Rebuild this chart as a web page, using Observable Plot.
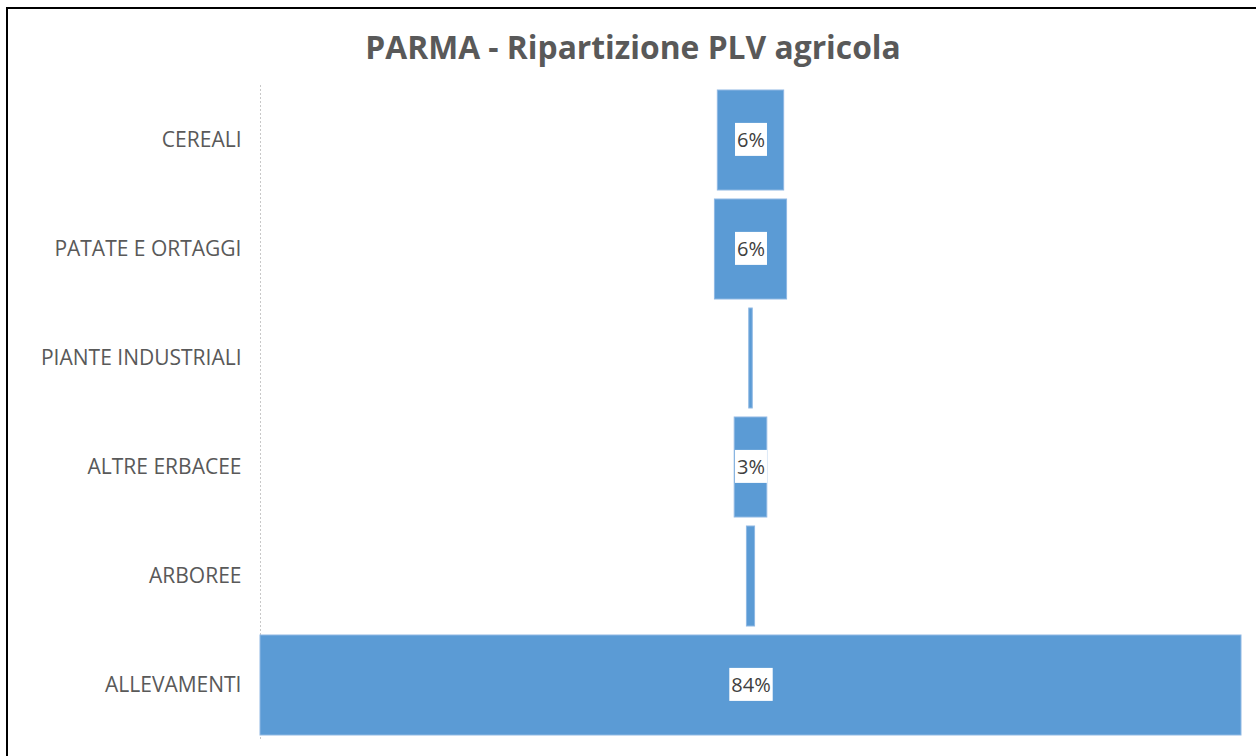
<!DOCTYPE html>
<html>
<head>
<meta charset="utf-8">
<script src="https://cdn.jsdelivr.net/npm/d3@7"></script>
<script src="https://cdn.jsdelivr.net/npm/@observablehq/plot@0.6"></script>
<style>
  html, body { margin: 0; padding: 0; background: #fff; overflow: hidden; width: 1256px; height: 756px; position: relative; }
  #frame { position: absolute; left: 6px; top: 7px; width: 1250px; height: 749px; border-left: 2px solid #000; border-top: 2px solid #000; box-sizing: border-box; z-index: 10; pointer-events: none; }
  #title { position: absolute; left: 0; top: 25px; width: 1266px; text-align: center; font-family: "Open Sans", Lato, sans-serif; font-weight: 700; font-size: 31.8px; color: #595959; z-index: 5; }
  #chart { position: absolute; left: 0; top: 0; }
</style>
</head>
<body>
<div id="frame"></div>
<div id="title">PARMA - Ripartizione PLV agricola</div>
<div id="chart"></div>
<script>
const categories = ["CEREALI", "PATATE E ORTAGGI", "PIANTE INDUSTRIALI", "ALTRE ERBACEE", "ARBOREE", "ALLEVAMENTI"];
const values = [5.7, 6.2, 0.3, 2.8, 0.7, 84.3];

const data = categories.map((c, i) => ({category: c, value: values[i]}));
const maxV = d3.max(values);

const plot = Plot.plot({
  width: 1256,
  height: 756,
  marginLeft: 260,
  marginRight: 15,
  marginTop: 85,
  marginBottom: 16,
  style: {fontFamily: "'Open Sans', Lato, sans-serif", background: "transparent"},
  x: {domain: [-maxV / 2, maxV / 2], axis: null},
  y: {domain: categories, padding: 0.08, paddingOuter: 0.03, label: null},
  marks: [
    Plot.ruleX([-maxV / 2], {stroke: "#c8c8c8", strokeDasharray: "2,2", strokeWidth: 1}),
    Plot.axisY({tickSize: 0, tickPadding: 19, fontSize: 21, fill: "#595959", label: null}),
    Plot.barX(data, {y: "category", x1: d => -d.value / 2, x2: d => d.value / 2, fill: "#5B9BD5", stroke: "#8fb8e3", strokeWidth: 1, inset: 0}),
    Plot.text(data.filter(d => d.value >= 1), {y: "category", x: 0, text: d => Math.round(d.value) + "%", fill: "#404040", fontSize: 20})
  ]
});
document.getElementById("chart").appendChild(plot);

// white box behind value labels
Array.from(plot.querySelectorAll("text")).filter(t => /%$/.test(t.textContent.trim())).forEach(t => {
  const b = t.getBBox();
  const r = document.createElementNS("http://www.w3.org/2000/svg", "rect");
  const padX = 2, padY = 3;
  const cy = b.y + b.height / 2, h = Math.max(b.height + 2 * padY, 31);
  r.setAttribute("x", b.x - padX);
  r.setAttribute("y", cy - h / 2);
  r.setAttribute("width", b.width + 2 * padX);
  r.setAttribute("height", h);
  r.setAttribute("fill", "#fff");
  if (t.getAttribute("transform")) r.setAttribute("transform", t.getAttribute("transform"));
  t.parentNode.insertBefore(r, t);
});
</script>
</body>
</html>
